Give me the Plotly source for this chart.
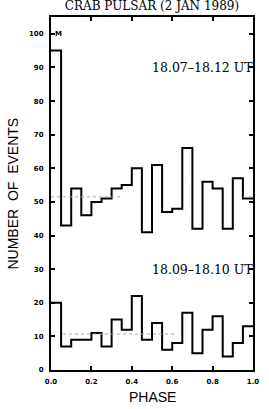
import plotly.graph_objects as go

phase_edges = [i * 0.05 for i in range(21)]
counts_1807_1812 = [95, 43, 54, 46, 50, 51, 54, 55, 60, 41, 61, 47, 48, 66, 42, 56, 54, 42, 57, 51]
counts_1809_1810 = [20, 7, 9, 9, 11, 7, 15, 12, 22, 9, 14, 6, 8, 17, 5, 12, 16, 4, 8, 13]
mean_top = 51.5
mean_bottom = 10.7
y_ticks = [0, 10, 20, 30, 40, 50, 60, 70, 80, 90, 100]
x_ticks = [0.0, 0.2, 0.4, 0.6, 0.8, 1.0]
x_ticklabels = ["0.0", "0.2", "0.4", "0.6", "0.8", "1.0"]

def step(vals):
    return phase_edges, vals + [vals[-1]]

fig = go.Figure()
for vals in (counts_1807_1812, counts_1809_1810):
    xs, ys = step(vals)
    fig.add_trace(go.Scatter(x=xs, y=ys, mode="lines", line=dict(shape="hv", color="black", width=2),
                             showlegend=False, hoverinfo="skip"))

# faint dotted mean lines
for (x0, x1, m) in [(0.0, 0.35, mean_top), (0.95, 1.0, mean_top), (0.06, 0.62, mean_bottom)]:
    fig.add_trace(go.Scatter(x=[x0, x1], y=[m, m], mode="lines",
                             line=dict(color="#aaaaaa", width=1, dash="dot"),
                             showlegend=False, hoverinfo="skip"))

NB = "\u00a0"
fig.update_layout(
    width=269, height=409,
    margin=dict(l=51, r=16, t=17, b=39, autoexpand=False),
    paper_bgcolor="white", plot_bgcolor="white",
    font=dict(family="DejaVu Sans", color="black"),
    title=dict(text="CRAB PULSAR (2 JAN 1989)", x=0.565, xanchor="center",
               y=0.985, yref="container", yanchor="middle", pad=dict(t=0), automargin=False,
               font=dict(family="DejaVu Serif", size=12, color="black")),
)
fig.update_xaxes(range=[0, 1], tickvals=x_ticks, ticktext=x_ticklabels, automargin=False,
                 ticks="inside", ticklen=4, tickwidth=1.5, tickcolor="black",
                 showline=True, linecolor="black", linewidth=2, mirror="ticks",
                 showgrid=False, zeroline=False, ticklabelstandoff=4,
                 tickfont=dict(family="DejaVu Sans", size=7, color="black", weight="bold"))
fig.update_yaxes(range=[0, 105], tickvals=y_ticks, automargin=False,
                 ticks="inside", ticklen=4, tickwidth=1.5, tickcolor="black",
                 showline=True, linecolor="black", linewidth=2, mirror="ticks",
                 showgrid=False, zeroline=False, ticklabelstandoff=4,
                 tickfont=dict(family="DejaVu Sans", size=7, color="black", weight="bold"))

# axis titles
fig.add_annotation(text="PHASE", xref="paper", yref="paper", x=0.5, y=-0.0765,
                   xanchor="center", yanchor="middle", showarrow=False,
                   font=dict(family="Liberation Sans", size=14, color="black"))
fig.add_annotation(text="NUMBER" + NB * 2 + "OF" + NB * 2 + "EVENTS", xref="paper", yref="paper",
                   x=-0.193, y=0.5, xanchor="center", yanchor="middle", textangle=-90, showarrow=False,
                   font=dict(family="Liberation Sans", size=14, color="black"))

fig.add_annotation(text="M", xref="x", yref="y", x=0.012, y=100, xanchor="left", yanchor="middle",
                   showarrow=False, font=dict(family="DejaVu Sans", size=7, color="black", weight="bold"))
fig.add_annotation(text="18.07\u201318.12 UT", xref="paper", yref="y", x=1.0, y=90, xanchor="right",
                   yanchor="middle", showarrow=False, xshift=2,
                   font=dict(family="DejaVu Serif", size=12.5, color="black"))
fig.add_annotation(text="18.09\u201318.10 UT", xref="paper", yref="y", x=1.0, y=30, xanchor="right",
                   yanchor="middle", showarrow=False, xshift=2,
                   font=dict(family="DejaVu Serif", size=12.5, color="black"))

fig.write_html("out.html", config={"displayModeBar": False},
               post_script="document.body.style.margin='0';")
